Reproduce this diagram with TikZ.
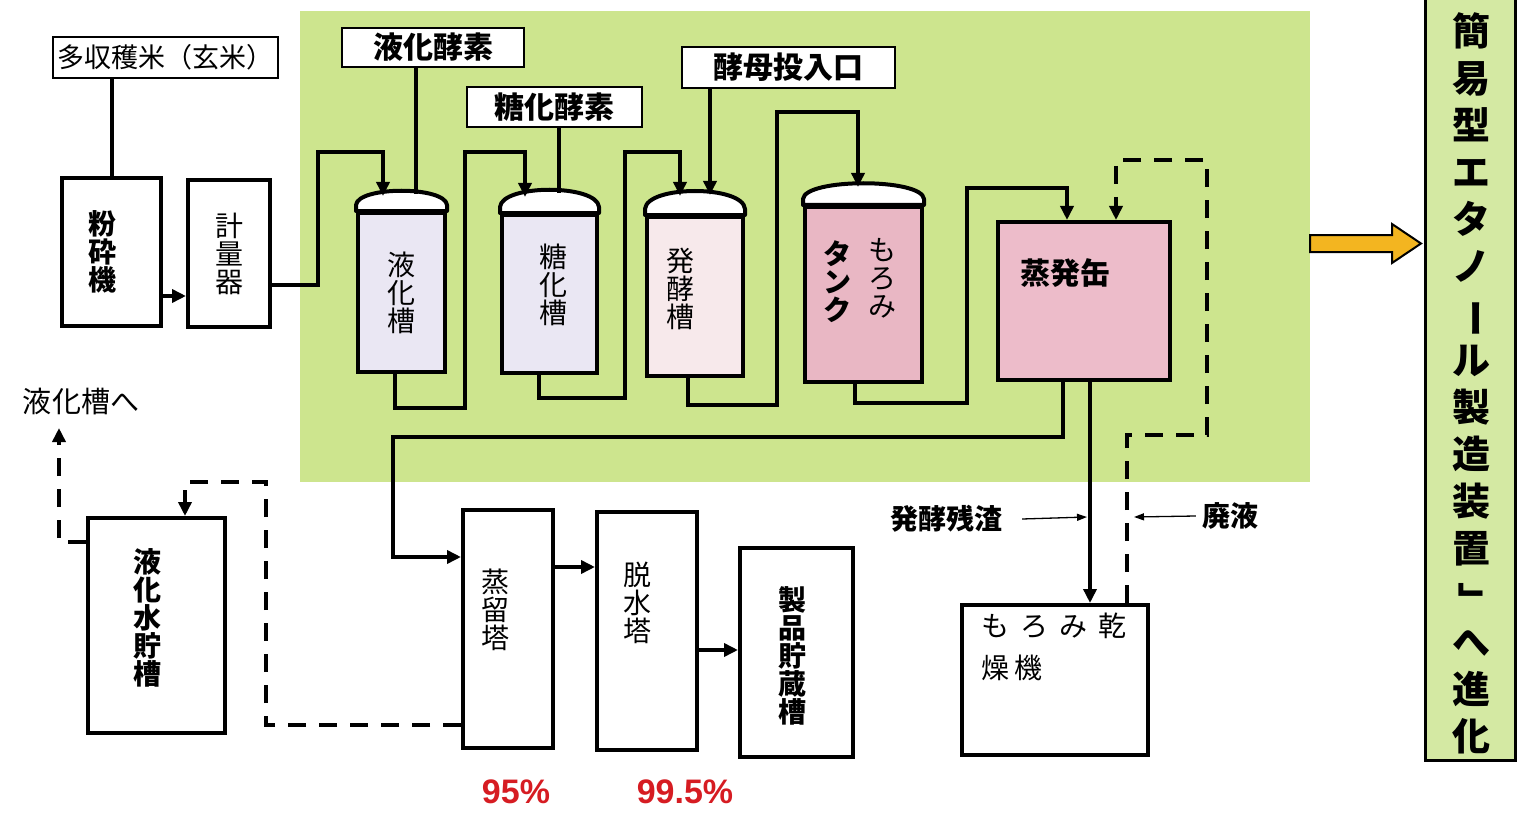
\documentclass[tikz,border=0pt]{standalone}
\usepackage{fontspec}
\setmainfont{Liberation Sans}
\newfontfamily\jp{Noto Sans CJK JP}
\usetikzlibrary{arrows.meta,calc}
\definecolor{greenbg}{RGB}{205,229,142}
\definecolor{lav}{RGB}{234,231,243}
\definecolor{pinka}{RGB}{247,233,235}
\definecolor{pinkb}{RGB}{233,183,196}
\definecolor{pinkc}{RGB}{237,188,202}
\definecolor{yarrow}{RGB}{243,181,32}
\definecolor{rbox}{RGB}{212,233,163}
\definecolor{redpct}{RGB}{214,28,34}
\tikzset{
  pipe/.style={line width=4pt},
  arr/.style={line width=4pt,-{Triangle[length=14pt,width=13pt]}},
  dpipe/.style={line width=4pt,dash pattern=on 18pt off 13pt},
  darr/.style={dpipe,-{Triangle[length=14pt,width=13pt]}},
  thinarr/.style={line width=1.3pt,-{Triangle[length=10pt,width=7pt]}},
  box/.style={draw,line width=4pt,fill=white,inner sep=0pt},
  tank/.style={draw,line width=4pt,inner sep=0pt},
  tag/.style={draw,line width=2.5pt,fill=white,inner sep=0pt,font=\jp\bfseries\fontsize{30}{30}\selectfont},
  vt/.style={align=center,inner sep=0pt,font=\jp\fontsize{28}{28}\selectfont},
  vtb/.style={align=center,inner sep=0pt,font=\jp\bfseries\fontsize{28}{28}\selectfont},
  lbl/.style={inner sep=0pt,font=\jp\bfseries\fontsize{28}{28}\selectfont},
  domest/.style={draw,line width=4pt,fill=white,line join=round},
  pct/.style={inner sep=0pt,text=redpct,font=\bfseries\fontsize{34}{34}\selectfont},
}
\newcommand\domeover[2]{\draw[domest] (#1.north west) -- ++(0,-6) .. controls +(2,-#2) and +(-2,-#2) .. ([yshift=6pt]#1.north east) -- (#1.north east) -- cycle;}
\newcommand\vrot[2]{\rotatebox[origin=c]{#1}{#2}}
\begin{document}
\begin{tikzpicture}[x=1pt,y=-1pt]
\useasboundingbox[fill=white] (0,0) rectangle (1517,813);
\fill[greenbg] (300,11) rectangle (1310,482);

% feed
\node[tag,line width=1.5pt,minimum width=225pt,minimum height=41pt,font=\jp\fontsize{27}{27}\selectfont] (rice) at (165.5,57.5) {多収穫米（玄米）};
\node[box,minimum width=99pt,minimum height=148pt,label={[vtb,xshift=-9.5pt]center:粉\\砕\\機}] (crush) at (111.5,252) {};
\node[box,minimum width=82pt,minimum height=147pt,label={[vt]center:計\\量\\器}] (weigh) at (229,253.5) {};

% tags
\node[tag,minimum width=182pt,minimum height=39pt] (enz1) at (433,47.5) {液化酵素};
\node[tag,minimum width=175pt,minimum height=40pt] (enz2) at (554.5,107) {糖化酵素};
\node[tag,minimum width=213pt,minimum height=41pt] (yeast) at (788.5,67.5) {酵母投入口};

% tanks
\node[tank,fill=lav,minimum width=87pt,minimum height=159pt,label={[vt]center:液\\化\\槽}] (t1) at (401.5,292.5) {};
\node[tank,fill=lav,minimum width=95pt,minimum height=158pt,label={[vt,xshift=3.5pt,yshift=9pt]center:糖\\化\\槽}] (t2) at (549.5,294) {};
\node[tank,fill=pinka,minimum width=96pt,minimum height=159pt,label={[vt,xshift=-15pt,yshift=8pt]center:発\\酵\\槽}] (t3) at (695,296.5) {};
\node[tank,fill=pinkb,minimum width=117pt,minimum height=175pt,
  label={[vtb,xshift=-26.5pt,yshift=13pt]center:タ\\ン\\ク},
  label={[vt,xshift=18.5pt,yshift=16pt]center:も\\ろ\\み}] (t4) at (863.5,294.5) {};
\domeover{t1}{19}
\domeover{t2}{23}
\domeover{t3}{24}
\domeover{t4}{21}
\node[tank,fill=pinkc,minimum width=172pt,minimum height=158pt,
  label={[lbl,font=\jp\bfseries\fontsize{30}{30}\selectfont,xshift=-19pt,yshift=28pt]center:蒸発缶}] (evap) at (1084,301) {};

% lower units
\node[box,minimum width=90pt,minimum height=238pt,label={[vt,xshift=-13pt,yshift=19pt]center:蒸\\留\\塔}] (dist) at (508,629) {};
\node[box,minimum width=100pt,minimum height=238pt,label={[vt,xshift=-10pt,yshift=28pt]center:脱\\水\\塔}] (dehyd) at (647,631) {};
\node[box,minimum width=113pt,minimum height=209pt,label={[vtb,xshift=-4.5pt,yshift=-3pt]center:製\\品\\貯\\蔵\\槽}] (store) at (796.5,652.5) {};
\node[box,minimum width=137pt,minimum height=215pt,label={[vtb,xshift=-9.5pt,yshift=8pt]center:液\\化\\水\\貯\\槽}] (water) at (156.5,625.5) {};
\node[box,minimum width=186pt,minimum height=150pt,
  label={[align=left,inner sep=0pt,font=\jp\fontsize{28}{42}\selectfont,anchor=north west,xshift=21pt,yshift=-10pt]north west:も\hspace{11pt}ろ\hspace{11pt}み\hspace{11pt}乾\\燥\hspace{5pt}機}] (dryer) at (1055,680) {};

% labels
\node[lbl] (reslbl) at (946,519) {発酵残渣};
\node[lbl] (wastelbl) at (1230,516) {廃液};
\node[inner sep=0pt,font=\jp\fontsize{29}{29}\selectfont] (toliqlbl) at (81,402) {液化槽へ};
\node[pct] (p95) at (516,792) {95\%};
\node[pct] (p995) at (685,792) {99.5\%};

% right box
\node[draw,line width=3pt,fill=rbox,minimum width=90pt,minimum height=770pt,inner sep=0pt,
  label={[align=center,inner sep=0pt,font=\jp\bfseries\fontsize{38}{47}\selectfont,xshift=1pt,yshift=-8.5pt]center:簡\\易\\型\\エ\\タ\\ノ\\\vrot{-90}{ー}\\ル\\製\\造\\装\\置\\\vrot{-90}{」}\\へ\\進\\化}] (final) at (1470,375) {};
\draw[line width=2pt,fill=yarrow,line join=miter] (1310,235) -- (1392,235) -- (1392,224) -- (1421,243.5) -- (1392,263) -- (1392,252) -- (1310,252) -- cycle;

% inlet coordinates
\coordinate (t1in) at (383,196);
\coordinate (t1feed) at (416,194);
\coordinate (t2in) at (525,197);
\coordinate (t2feed) at (559,193);
\coordinate (t3in) at (680,196);
\coordinate (t3feed) at (710,195);
\coordinate (t4in) at (858,187);
\coordinate (respt) at (1087,517);
\coordinate (wastept) at (1134,517);
\coordinate (toliq) at (59,428);

% connectors
\draw[pipe] (rice.south -| crush.north) -- (crush.north);
\draw[arr] ([yshift=-44pt]crush.east) -- ([yshift=-42.5pt]weigh.west);
\draw[arr] ([yshift=-31.5pt]weigh.east) -| (318,152) -| (t1in);
\draw[pipe] ([xshift=-17pt]enz1.south) -- (t1feed);
\draw[arr] ([xshift=-6.5pt]t1.south) |- (465,408) |- (525,152) -- (t2in);
\draw[pipe] ([xshift=4.5pt]enz2.south) -- (t2feed);
\draw[arr] ([xshift=-10.5pt]t2.south) |- (625,398) |- (680,152) -- (t3in);
\draw[arr] ([xshift=-78.5pt]yeast.south) -- (t3feed);
\draw[arr] ([xshift=-7pt]t3.south) |- (777,405) |- (858,112) -- (t4in);
\draw[arr] ([xshift=-8.5pt]t4.south) |- (967,403) |- (1067,188) -- ([xshift=-17pt]evap.north);
\draw[arr] ([xshift=-21pt]evap.south) |- (393,437) |- ([yshift=72pt]dist.west);
\draw[arr] ([xshift=6pt]evap.south) -- ([xshift=35pt]dryer.north);
\draw[darr] ([xshift=72pt]dryer.north) |- (1207,435) |- (1116,160) -- ([xshift=32pt]evap.north);
\draw[arr] ([yshift=62pt]dist.east) -- ([yshift=64pt]dehyd.west);
\draw[arr] ([yshift=-19pt]dehyd.east) -- ([yshift=2.5pt]store.west);
\draw[darr] ([yshift=-96pt]dist.west) -| (266,482) -| ([xshift=28.5pt]water.north);
\draw[darr] ([yshift=83.5pt]water.west) -| (toliq);
\draw[thinarr] ([xshift=20pt]reslbl.east) -- (respt);
\draw[thinarr] ([xshift=-6pt]wastelbl.west) -- (wastept);
\end{tikzpicture}
\end{document}
